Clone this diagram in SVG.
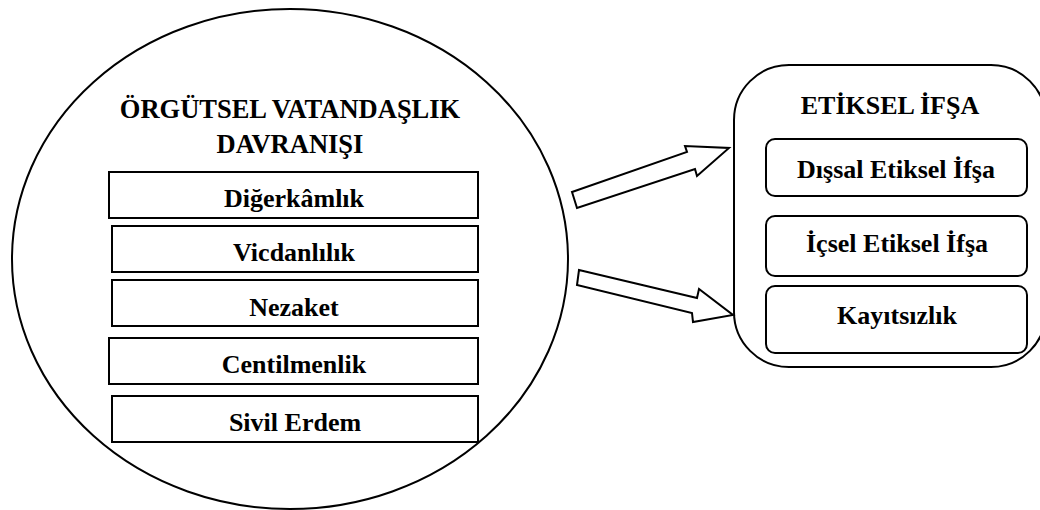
<svg xmlns="http://www.w3.org/2000/svg" width="1040" height="510" viewBox="0 0 1040 510">
<style>
.ln{fill:#fff;stroke:#000;stroke-width:2}
text{font-family:'Liberation Serif','Times New Roman',serif;font-weight:700;font-size:26px;fill:#000;text-anchor:middle}
</style>
<rect x="0" y="0" width="1040" height="510" fill="#fff"/>
<g id="ocb">
<ellipse class="ln" cx="290" cy="259" rx="278" ry="250"/>
<text x="290" y="118" style="font-size:26.5px">ÖRGÜTSEL VATANDAŞLIK</text>
<text x="290" y="153" style="font-size:26.5px">DAVRANIŞI</text>
</g>
<g id="diger"><rect class="ln" x="109" y="172" width="369" height="46"/><text x="294" y="207">Diğerkâmlık</text></g>
<g id="vicdan"><rect class="ln" x="112" y="226" width="366" height="46"/><text x="294" y="261">Vicdanlılık</text></g>
<g id="nezaket"><rect class="ln" x="112" y="280" width="366" height="46"/><text x="294" y="316">Nezaket</text></g>
<g id="centil"><rect class="ln" x="109" y="338" width="369" height="46"/><text x="294" y="373">Centilmenlik</text></g>
<g id="sivil"><rect class="ln" x="112" y="396" width="366" height="46"/><text x="295" y="431">Sivil Erdem</text></g>
<g id="etik">
<rect class="ln" x="734" y="65" width="312" height="302" rx="55" ry="55"/>
<text x="890" y="114">ETİKSEL İFŞA</text>
</g>
<g id="dissal"><rect class="ln" x="766" y="139" width="261" height="57" rx="9"/><text x="896" y="178">Dışsal Etiksel İfşa</text></g>
<g id="icsel"><rect class="ln" x="766" y="216" width="261" height="60" rx="9"/><text x="897" y="252">İçsel Etiksel İfşa</text></g>
<g id="kayit"><rect class="ln" x="766" y="286" width="261" height="67" rx="9"/><text x="897" y="324">Kayıtsızlık</text></g>
<g id="connectors">
<polygon class="ln" points="572,192 687,152 685,146 729,148 697,176 695,169 577,208"/>
<polygon class="ln" points="579,270 697,298 699,289 733,315 693,322 692,313 577,285"/>
</g>
</svg>
